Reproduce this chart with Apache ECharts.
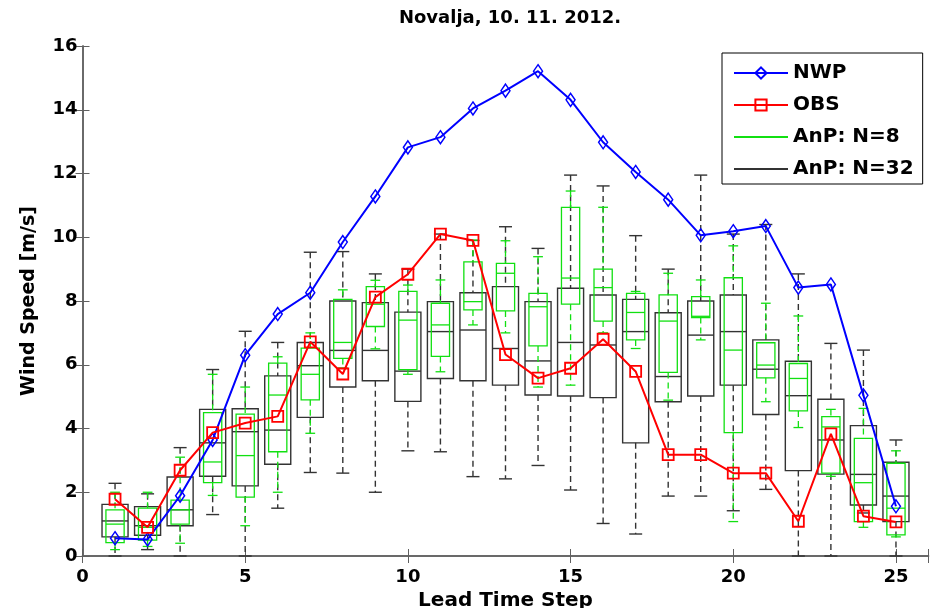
<!DOCTYPE html>
<html>
<head>
<meta charset="utf-8">
<script src="https://cdn.jsdelivr.net/npm/echarts@6/dist/echarts.min.js"></script>
<style>
  html, body { margin: 0; padding: 0; background: #fff; }
  #chart { width: 932px; height: 608px; }
</style>
</head>
<body>
<div id="chart"></div>
<script>
const steps = [1, 2, 3, 4, 5, 6, 7, 8, 9, 10, 11, 12, 13, 14, 15, 16, 17, 18, 19, 20, 21, 22, 23, 24, 25]

const nwp = [0.56, 0.52, 1.89, 3.64, 6.3, 7.59, 8.26, 9.85, 11.28, 12.82, 13.14, 14.04, 14.6, 15.21, 14.31,
  12.98, 12.05, 11.18, 10.06, 10.19, 10.35, 8.42, 8.52, 5.04, 1.56]

const obs = [1.78, 0.9, 2.69, 3.87, 4.17, 4.38, 6.72, 5.71, 8.12, 8.84, 10.1, 9.9, 6.32, 5.58, 5.89,
  6.8, 5.79, 3.18, 3.18, 2.6, 2.6, 1.09, 3.83, 1.25, 1.07]

// [lower whisker, q1, median, q3, upper whisker]
const anp8 = [
  [0.2, 0.42, 1.0, 1.45, 2.0], [0.3, 0.5, 0.9, 1.5, 2.0], [0.4, 1.0, 1.45, 1.75, 3.1],
  [1.9, 2.3, 2.95, 4.5, 5.7], [0.95, 1.85, 3.15, 4.45, 5.3], [2.0, 3.27, 5.05, 6.05, 6.25],
  [3.85, 4.9, 5.7, 6.52, 7.0], [5.9, 6.2, 6.7, 8.05, 8.35], [6.5, 7.2, 7.9, 8.45, 8.65],
  [5.7, 5.85, 7.4, 8.3, 8.5], [5.78, 6.26, 7.25, 7.93, 8.66], [7.25, 7.72, 7.98, 9.23, 9.91],
  [7.0, 7.69, 8.87, 9.18, 9.89], [5.3, 6.59, 7.82, 8.24, 9.39], [5.36, 7.9, 8.72, 10.94, 11.45],
  [7.0, 7.37, 8.42, 9.0, 10.94], [6.51, 6.78, 7.64, 8.24, 8.3], [4.89, 5.76, 7.37, 8.19, 8.87],
  [6.78, 7.48, 7.52, 8.14, 8.66], [1.08, 3.87, 6.46, 8.73, 9.73], [4.84, 5.59, 5.99, 6.69, 7.93],
  [4.03, 4.55, 5.57, 6.04, 7.53], [2.5, 2.6, 4.05, 4.37, 4.6], [0.9, 1.08, 2.3, 3.69, 4.63],
  [0.6, 0.66, 1.5, 2.91, 3.3]
]

const anp32 = [
  [0, 0.6, 1.1, 1.62, 2.28], [0.2, 0.65, 0.95, 1.55, 1.95], [0, 0.95, 1.45, 2.48, 3.4],
  [1.3, 2.5, 3.55, 4.6, 5.85], [0, 2.2, 3.9, 4.62, 7.05], [1.5, 2.88, 3.95, 5.65, 6.7],
  [2.62, 4.35, 5.97, 6.7, 9.53], [2.6, 5.3, 6.45, 8.0, 9.55], [2.0, 5.5, 6.45, 7.95, 8.85],
  [3.3, 4.85, 5.8, 7.65, 9.0], [3.27, 5.57, 7.04, 7.98, 10.1], [2.49, 5.5, 7.09, 8.26, 9.9],
  [2.42, 5.36, 6.51, 8.45, 10.33], [2.84, 5.05, 6.12, 7.98, 9.65], [2.07, 5.02, 6.7, 8.4, 11.95],
  [1.02, 4.97, 6.62, 8.19, 11.61], [0.69, 3.55, 7.04, 8.05, 10.05], [1.88, 4.84, 5.63, 7.63, 9.0],
  [1.88, 5.02, 6.93, 8.0, 11.95], [1.42, 5.36, 7.04, 8.19, 10.1], [2.09, 4.44, 5.86, 6.78, 10.4],
  [0, 2.68, 5.03, 6.11, 8.85], [0, 2.57, 3.64, 4.92, 6.67], [1.35, 1.6, 2.56, 4.09, 6.46],
  [0, 1.08, 1.88, 2.94, 3.64]
]

const FONT = 'DejaVu Sans'
const AXIS_COLOR = '#606060'
const GREEN = '#11e011'
const BLACK = '#333333'

const chart = echarts.init(document.getElementById('chart'), null, { renderer: 'canvas' })

// boxplot drawn by hand so box widths match the matlab figure
function boxItem(boxW, capW, color, lw) {
  return (params, api) => {
    const x = api.value(0)
    const lo = api.coord([x, api.value(1)])
    const q1 = api.coord([x, api.value(2)])
    const md = api.coord([x, api.value(3)])
    const q3 = api.coord([x, api.value(4)])
    const hi = api.coord([x, api.value(5)])
    const hw = api.size([boxW, 0])[0] / 2
    const hc = api.size([capW, 0])[0] / 2
    const cx = lo[0]
    const solid = { stroke: color, lineWidth: lw, fill: null }
    const dashed = { stroke: color, lineWidth: lw, lineDash: [6, 4], fill: null }
    return {
      type: 'group',
      children: [
        { type: 'line', shape: { x1: cx, y1: hi[1], x2: cx, y2: q3[1] }, style: dashed },
        { type: 'line', shape: { x1: cx, y1: q1[1], x2: cx, y2: lo[1] }, style: dashed },
        { type: 'line', shape: { x1: cx - hc, y1: hi[1], x2: cx + hc, y2: hi[1] }, style: solid },
        { type: 'line', shape: { x1: cx - hc, y1: lo[1], x2: cx + hc, y2: lo[1] }, style: solid },
        { type: 'rect', shape: { x: cx - hw, y: q3[1], width: hw * 2, height: q1[1] - q3[1] },
          style: { stroke: color, lineWidth: lw, fill: 'transparent' } },
        { type: 'line', shape: { x1: cx - hw, y1: md[1], x2: cx + hw, y2: md[1] }, style: solid },
      ],
    }
  }
}

const xAxisBase = {
  type: 'value', min: 0, max: 26, interval: 5,
  axisLine: { lineStyle: { color: AXIS_COLOR, width: 1.5 } },
  axisTick: { inside: true, length: 7, lineStyle: { color: AXIS_COLOR } },
  splitLine: { show: false },
}
const yAxisBase = {
  type: 'value', min: 0, max: 16, interval: 2,
  axisLine: { show: true, lineStyle: { color: AXIS_COLOR, width: 1.5 } },
  axisTick: { show: true, inside: true, length: 7, lineStyle: { color: AXIS_COLOR } },
  splitLine: { show: false },
}

const option = {
  animation: false,
  title: {
    text: 'Novalja, 10. 11. 2012.',
    left: 505, top: 4, textAlign: 'center',
    textStyle: { fontFamily: FONT, fontWeight: 'bold', fontSize: 18, color: '#000' },
  },
  legend: {
    orient: 'vertical',
    left: 722, top: 53,
    padding: [10, 9, 5, 11],
    itemWidth: 54, itemHeight: 14, itemGap: 12,
    borderColor: '#000', borderWidth: 1, backgroundColor: '#fff',
    textStyle: { fontFamily: FONT, fontWeight: 'bold', fontSize: 20, color: '#000' },
    data: [
      'NWP', 'OBS',
      { name: 'AnP: N=8', icon: 'path://M0,0H40V1.5H0Z' },
      { name: 'AnP: N=32', icon: 'path://M0,0H40V1.5H0Z' },
    ],
  },
  grid: { left: 82.5, right: 3.5, top: 46, bottom: 52, outerBoundsMode: 'none' },
  xAxis: [
    {
      ...xAxisBase, position: 'bottom',
      name: 'Lead Time Step', nameLocation: 'middle', nameGap: 26,
      nameTextStyle: { fontFamily: FONT, fontWeight: 'bold', fontSize: 20, color: '#000' },
      axisLabel: {
        margin: 12, fontFamily: FONT, fontWeight: 'bold', fontSize: 18, color: '#000',
        formatter: v => (v % 5 === 0 ? String(v) : ''),
      },
    },
    { ...xAxisBase, position: 'top', axisLabel: { show: false } },
  ],
  yAxis: [
    {
      ...yAxisBase, position: 'left',
      name: 'Wind Speed [m/s]', nameLocation: 'middle', nameGap: 44,
      nameTextStyle: { fontFamily: FONT, fontWeight: 'bold', fontSize: 19, color: '#000' },
      axisLabel: { margin: 5, fontFamily: FONT, fontWeight: 'bold', fontSize: 18, color: '#000' },
    },
    { ...yAxisBase, position: 'right', axisLabel: { show: false } },
  ],
  series: [
    {
      name: 'AnP: N=32', type: 'custom',
      renderItem: boxItem(0.8, 0.4, BLACK, 1.4),
      itemStyle: { color: BLACK },
      encode: { x: 0, y: [1, 2, 3, 4, 5] },
      data: anp32.map((b, i) => [steps[i], ...b]),
      z: 2,
    },
    {
      name: 'AnP: N=8', type: 'custom',
      renderItem: boxItem(0.56, 0.3, GREEN, 1.3),
      itemStyle: { color: GREEN },
      encode: { x: 0, y: [1, 2, 3, 4, 5] },
      data: anp8.map((b, i) => [steps[i], ...b]),
      z: 3,
    },
    {
      name: 'NWP', type: 'line',
      data: steps.map((s, i) => [s, nwp[i]]),
      symbol: 'diamond', symbolSize: [9, 13],
      lineStyle: { color: '#0000ff', width: 2 },
      itemStyle: { color: 'rgba(255,255,255,0)', borderColor: '#0000ff', borderWidth: 1.5 },
      z: 5,
    },
    {
      name: 'OBS', type: 'line',
      data: steps.map((s, i) => [s, obs[i]]),
      symbol: 'rect', symbolSize: 11,
      lineStyle: { color: '#ff0000', width: 2 },
      itemStyle: { color: 'rgba(255,255,255,0)', borderColor: '#ff0000', borderWidth: 1.8 },
      z: 6,
    },
  ],
}

chart.setOption(option)
</script>
</body>
</html>
